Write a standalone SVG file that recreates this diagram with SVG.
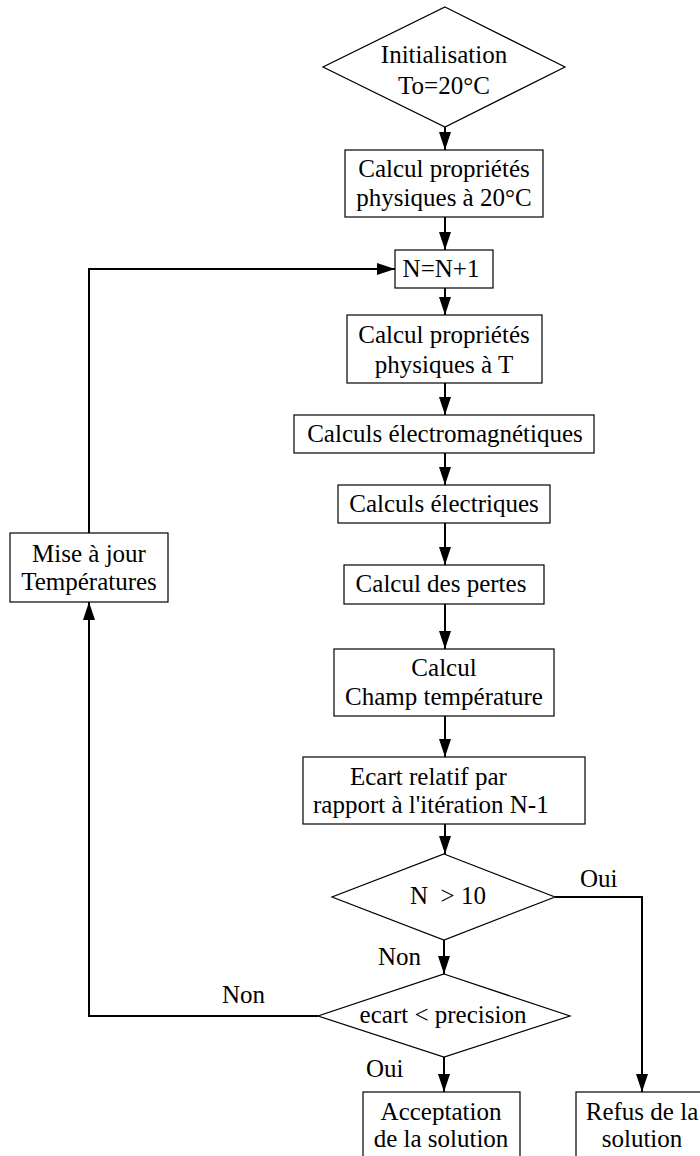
<svg xmlns="http://www.w3.org/2000/svg" width="700" height="1156" viewBox="0 0 700 1156">
<style>
.box{fill:#fff;stroke:#000;stroke-width:1.2}
.t{font-family:'Liberation Serif',Tinos,'Times New Roman',Times,'DejaVu Serif',serif;font-size:25px;fill:#000;text-anchor:middle;white-space:pre}
.s{text-anchor:start}
.c{fill:none;stroke:#000;stroke-width:2;marker-end:url(#ah)}
</style>
<defs>
<marker id="ah" markerUnits="userSpaceOnUse" markerWidth="18" markerHeight="12" refX="18" refY="6" orient="auto">
<path d="M0,0 L18,6 L0,12 Z" fill="#000"/>
</marker>
</defs>
<rect width="700" height="1156" fill="#fff"/>
<g id="connectors">
<path class="c" d="M445,127 V150"/>
<path class="c" d="M445,217 V250"/>
<path class="c" d="M445,288 V315"/>
<path class="c" d="M445,383 V415"/>
<path class="c" d="M445,453 V485"/>
<path class="c" d="M445,523 V565"/>
<path class="c" d="M445,604 V649"/>
<path class="c" d="M445,716 V757"/>
<path class="c" d="M445,824 V854"/>
<path class="c" d="M444,940 V974"/>
<path class="c" d="M444,1057 V1092"/>
<path class="c" d="M555,897 H642 V1092"/>
<path class="c" d="M318,1016 H89 V602"/>
<path class="c" d="M89,533 V269 H395"/>
<text class="t s" font-family="Liberation Serif" x="580" y="887">Oui</text>
<text class="t s" font-family="Liberation Serif" x="378" y="965">Non</text>
<text class="t s" font-family="Liberation Serif" x="366" y="1077">Oui</text>
<text class="t s" font-family="Liberation Serif" x="222" y="1003">Non</text>
</g>
<g id="init">
<polygon class="box" points="445,7 565,67 445,127 323,67"/>
<text class="t" x="444" y="63">Initialisation</text>
<text class="t" x="444" y="94">To=20°C</text>
</g>
<g id="prop20">
<rect class="box" x="345" y="150" width="198" height="67"/>
<text class="t" x="444" y="177">Calcul propriétés</text>
<text class="t" x="444" y="206">physiques à 20°C</text>
</g>
<g id="incr">
<rect class="box" x="395" y="250" width="98" height="38"/>
<text class="t" x="441" y="277">N=N+1</text>
</g>
<g id="propT">
<rect class="box" x="347" y="315" width="195" height="68"/>
<text class="t" x="444" y="343">Calcul propriétés</text>
<text class="t" x="444" y="373">physiques à T</text>
</g>
<g id="em">
<rect class="box" x="294" y="415" width="300" height="38"/>
<text class="t" x="445" y="442">Calculs électromagnétiques</text>
</g>
<g id="elec">
<rect class="box" x="338" y="485" width="212" height="38"/>
<text class="t" x="444" y="512">Calculs électriques</text>
</g>
<g id="pertes">
<rect class="box" x="344" y="565" width="200" height="39"/>
<text class="t" x="441" y="592">Calcul des pertes</text>
</g>
<g id="champ">
<rect class="box" x="334" y="649" width="220" height="67"/>
<text class="t" x="444" y="676">Calcul</text>
<text class="t" x="444" y="705">Champ température</text>
</g>
<g id="ecart">
<rect class="box" x="303" y="757" width="282" height="67"/>
<text class="t s" x="350" y="785">Ecart relatif par</text>
<text class="t s" x="313" y="813">rapport à l'itération N-1</text>
</g>
<g id="test-n">
<polygon class="box" points="444,854 555,897 444,940 332,897"/>
<text class="t" x="448" y="904">N  &gt; 10</text>
</g>
<g id="test-ecart">
<polygon class="box" points="444,974 570,1016 444,1057 318,1016"/>
<text class="t" x="443" y="1023">ecart &lt; precision</text>
</g>
<g id="maj">
<rect class="box" x="10" y="533" width="158" height="69"/>
<text class="t" x="89" y="562">Mise à jour</text>
<text class="t" x="89" y="590">Températures</text>
</g>
<g id="accept">
<rect class="box" x="363" y="1092" width="157" height="70"/>
<text class="t" x="441" y="1120">Acceptation</text>
<text class="t" x="441" y="1147">de la solution</text>
</g>
<g id="refus">
<rect class="box" x="576" y="1092" width="140" height="70"/>
<text class="t" x="642" y="1120">Refus de la</text>
<text class="t" x="642" y="1147">solution</text>
</g>
</svg>
